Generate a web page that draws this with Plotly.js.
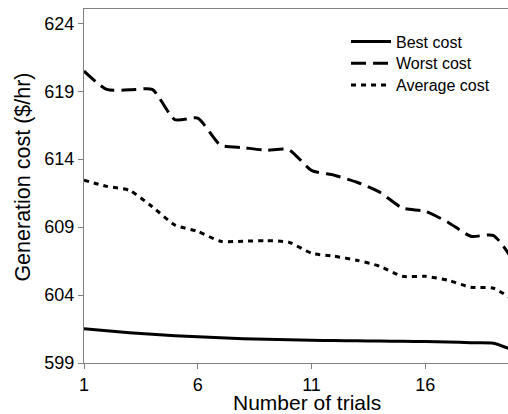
<!DOCTYPE html>
<html>
<head>
<meta charset="utf-8">
<script src="https://cdn.plot.ly/plotly-3.0.1.min.js"></script>
<style>
html,body{margin:0;padding:0;background:#fff;overflow:hidden;}
#chart{width:508px;height:414px;}
</style>
</head>
<body>
<div id="chart"></div>
<script>
const trials = [1,2,3,4,5,6,7,8,9,10,11,12,13,14,15,16,17,18,19,20];
const bestCost = [601.52,601.37,601.22,601.11,601.00,600.93,600.86,600.79,600.75,600.71,600.67,600.65,600.63,600.61,600.60,600.58,600.55,600.49,600.46,599.85];
const worstCost = [620.48,619.13,619.10,619.13,616.90,617.02,615.03,614.85,614.66,614.70,613.18,612.82,612.30,611.57,610.40,610.17,609.36,608.33,608.38,606.2];
const averageCost = [612.45,612.00,611.70,610.50,609.15,608.69,607.96,607.96,608.00,607.89,607.08,606.86,606.56,606.12,605.38,605.38,605.09,604.57,604.50,603.5];
const seriesNames = ["Best cost","Worst cost","Average cost"];
const yTicks = [599,604,609,614,619,624];
const xTicks = [1,6,11,16];

const FONT = "Liberation Sans, Arial, sans-serif";
const traces = [
  {x: trials, y: bestCost, name: seriesNames[0], mode: "lines", legend: "legend",
   line: {color: "#000", width: 3, shape: "spline", smoothing: 0.6}},
  {x: trials, y: worstCost, name: seriesNames[1], mode: "lines", legend: "legend2",
   line: {color: "#000", width: 3, dash: "15px,7px", shape: "spline", smoothing: 0.6}},
  {x: trials, y: averageCost, name: seriesNames[2], mode: "lines", legend: "legend3",
   line: {color: "#000", width: 3, dash: "5px,5px", shape: "spline", smoothing: 0.6}}
];

function leg(y) {
  return {x: 0.618, y: y, xanchor: "left", yanchor: "middle", itemwidth: 40,
          font: {family: FONT, size: 16, color: "#000"},
          bgcolor: "rgba(0,0,0,0)", borderwidth: 0};
}

const layout = {
  width: 508, height: 414,
  margin: {l: 84, r: 0, t: 9, b: 51},
  paper_bgcolor: "#fff", plot_bgcolor: "#fff",
  font: {family: FONT, color: "#000"},
  showlegend: true,
  legend: leg(0.9076),
  legend2: leg(0.8466),
  legend3: leg(0.7853),
  xaxis: {
    range: [1, 19.64], tickmode: "array", tickvals: xTicks, ticktext: xTicks.map(String),
    showgrid: false, zeroline: false, showline: true, mirror: true,
    linecolor: "#808080", linewidth: 1,
    ticks: "outside", ticklen: 5, tickcolor: "#808080",
    tickfont: {family: FONT, size: 18, color: "#000"},
    title: {text: ""}
  },
  yaxis: {
    range: [599, 625.05], tickmode: "array", tickvals: yTicks, ticktext: yTicks.map(String),
    showgrid: false, zeroline: false, showline: true,
    linecolor: "#808080", linewidth: 1,
    ticks: "outside", ticklen: 5, tickcolor: "#808080",
    tickfont: {family: FONT, size: 18, color: "#000"},
    title: {text: ""}
  },
  annotations: [
    {text: "Number of trials", xref: "paper", yref: "paper", x: 0.527, y: 0,
     yshift: -39, xanchor: "center", yanchor: "middle", showarrow: false,
     font: {family: FONT, size: 21, color: "#000"}},
    {text: "Generation cost ($/hr)", xref: "paper", yref: "paper", x: -0.146, y: 0.524,
     xanchor: "center", yanchor: "middle", textangle: -90, showarrow: false,
     font: {family: FONT, size: 21.5, color: "#000"}}
  ]
};

Plotly.newPlot("chart", traces, layout, {displayModeBar: false, staticPlot: true});
</script>
</body>
</html>
